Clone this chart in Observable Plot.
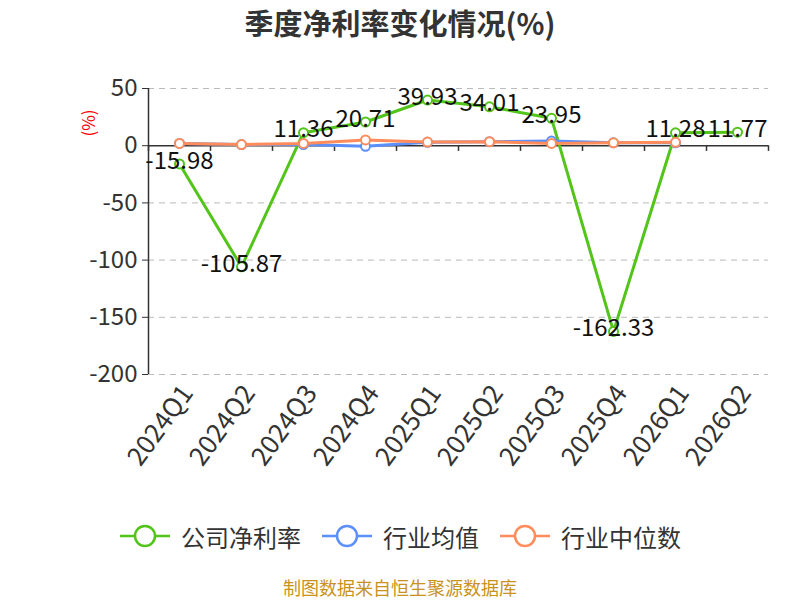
<!DOCTYPE html>
<html>
<head>
<meta charset="utf-8">
<script src="https://cdn.jsdelivr.net/npm/d3@7"></script>
<script src="https://cdn.jsdelivr.net/npm/@observablehq/plot@0.6"></script>
<style>
  html, body { margin: 0; padding: 0; background: #fff; }
  body { width: 800px; height: 600px; position: relative; overflow: hidden; font-family: "Noto Sans CJK SC", "Noto Sans", sans-serif; }
  #title { position: absolute; top: 0; left: 0; width: 800px; height: 44px; text-align: center; font-size: 29px; font-weight: bold; color: #333; line-height: 44px; }
  #chart { position: absolute; top: 44px; left: 0; }
  #ylab { position: absolute; left: 74px; top: 112px; color: red; font-size: 17px; transform: rotate(-90deg); transform-origin: center; line-height: 22px; }
  #legend { position: absolute; top: 516px; left: 0; width: 800px; height: 40px; display: flex; justify-content: center; align-items: center; font-size: 24px; color: #333; }
  .item { display: flex; align-items: center; margin: 0 10px; }
  .item svg { margin-right: 10px; }
  #caption { position: absolute; top: 577px; left: 0; width: 800px; text-align: center; font-size: 18px; color: #c8921c; line-height: 20px; }
</style>
</head>
<body>
<div id="title">季度净利率变化情况(%)</div>
<div id="chart"></div>
<div id="ylab">(%)</div>
<div id="legend"></div>
<div id="caption">制图数据来自恒生聚源数据库</div>
<script>
const quarters = ["2024Q1","2024Q2","2024Q3","2024Q4","2025Q1","2025Q2","2025Q3","2025Q4","2026Q1","2026Q2"];
const company = [-15.98, -105.87, 11.36, 20.71, 39.93, 34.01, 23.95, -162.33, 11.28, 11.77];
const industryAvg = [2, 1, 1, -0.5, 3, 3.5, 4, 2.5, 2.5, null];
const industryMedian = [2, 1, 2, 5, 3.2, 3.5, 2, 2.5, 3, null];
const yTicks = [50, 0, -50, -100, -150, -200];
const seriesNames = ["公司净利率", "行业均值", "行业中位数"];
const colors = ["#52c41a", "#5b8ff9", "#ff8c5a"];

const idx = quarters.map((q, i) => i);
const mk = (arr) => idx.filter(i => arr[i] != null).map(i => ({i, v: arr[i]}));
const compData = mk(company);
const avgData = mk(industryAvg);
const medData = mk(industryMedian);
const boundaries = d3.range(quarters.length + 1).map(i => i - 0.5);

const font = '"Noto Sans CJK SC", "Noto Sans", sans-serif';

const chart = Plot.plot({
  width: 800,
  height: 460,
  marginTop: 44,
  marginBottom: 130,
  marginLeft: 148,
  marginRight: 32,
  style: { fontFamily: font, fontSize: "24px", color: "#333", background: "#fff" },
  x: { type: "linear", domain: [-0.5, quarters.length - 0.5] },
  y: { domain: [-200, 50] },
  marks: [
    Plot.gridY(yTicks.filter(t => t !== 0), { stroke: "#bbb", strokeOpacity: 1, strokeDasharray: "6,5", strokeWidth: 1 }),
    Plot.axisY({ ticks: yTicks, tickSize: 6, tickPadding: 5, tickFormat: d => String(d), label: null, fontSize: 24, stroke: "#333", fill: "#333" }),
    Plot.axisX({ ticks: idx, tickFormat: i => quarters[i], tickSize: 0, tickPadding: 14, tickRotate: -54, label: null, fontSize: 26, fill: "#333", dx: 8 }),
    Plot.ruleX([-0.5], { y1: -200, y2: 50, stroke: "#333", strokeWidth: 1.5 }),
    Plot.ruleY([0], { stroke: "#333", strokeWidth: 1.5 }),
    Plot.ruleX(boundaries, { x: d => d, y1: 0, y2: -5, stroke: "#333", strokeWidth: 1.5 }),
    Plot.line(compData, { x: "i", y: "v", stroke: colors[0], strokeWidth: 3 }),
    Plot.dot(compData, { x: "i", y: "v", r: 4.5, fill: "#fff", stroke: colors[0], strokeWidth: 2 }),
    Plot.line(avgData, { x: "i", y: "v", stroke: colors[1], strokeWidth: 3 }),
    Plot.dot(avgData, { x: "i", y: "v", r: 4.5, fill: "#fff", stroke: colors[1], strokeWidth: 2 }),
    Plot.line(medData, { x: "i", y: "v", stroke: colors[2], strokeWidth: 3 }),
    Plot.dot(medData, { x: "i", y: "v", r: 4.5, fill: "#fff", stroke: colors[2], strokeWidth: 2 }),
    Plot.text(compData, { x: "i", y: "v", text: d => d.v.toFixed(2), dy: -3, fontSize: 24, fill: "#111", fontFamily: font })
  ]
});
document.getElementById("chart").appendChild(chart);

const legend = document.getElementById("legend");
seriesNames.forEach((name, k) => {
  const it = document.createElement("div");
  it.className = "item";
  it.innerHTML = `<svg width="52" height="26"><line x1="1" y1="13" x2="51" y2="13" stroke="${colors[k]}" stroke-width="2.5"/><circle cx="26" cy="13" r="10" fill="#fff" stroke="${colors[k]}" stroke-width="2.5"/></svg><span>${name}</span>`;
  legend.appendChild(it);
});
</script>
</body>
</html>
